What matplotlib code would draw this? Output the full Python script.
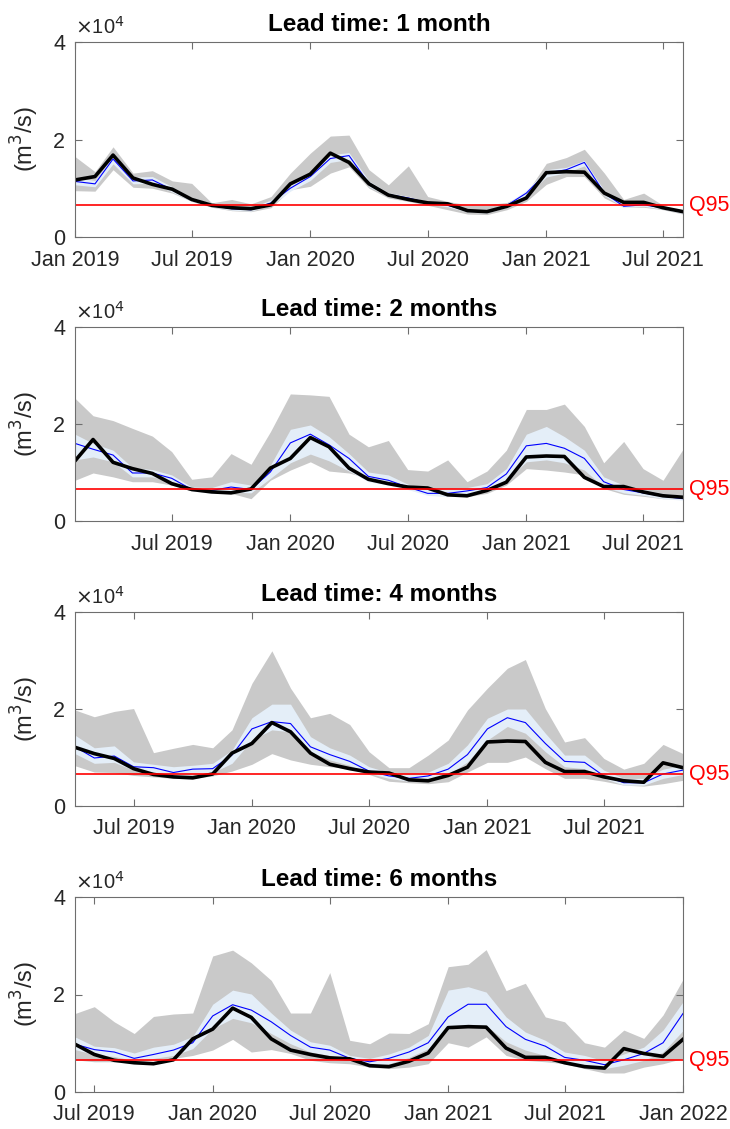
import numpy as np
import pandas as pd
import matplotlib
matplotlib.use('Agg')
import matplotlib.pyplot as plt
import matplotlib.dates as mdates
from matplotlib.ticker import FuncFormatter, FixedLocator

plt.rcParams['font.family'] = ['Liberation Sans', 'DejaVu Sans']

# monthly dates of the observed series (Jan 2019 .. Jan 2022)
months = pd.date_range('2019-01-01', periods=37, freq='MS')

observed = [11700, 12400, 16800, 12100, 10800, 9800, 7700, 6500, 6000, 5800, 6600, 10900,
            12900, 17200, 15300, 10900, 8600, 7700, 7000, 6800, 5400, 5200, 6300, 8000,
            13200, 13400, 13300, 9000, 7100, 7100, 6000, 5200, 4900, 8900, 7900, 7300,
            10800]

q95 = 6500
lead_times = [1, 2, 4, 6]
titles = ['Lead time: 1 month', 'Lead time: 2 months', 'Lead time: 4 months', 'Lead time: 6 months']

# ensemble max / min (grey), upper / lower quantiles (light blue), median (blue)
ens_max = [
    [16500, 13400, 18500, 13100, 13600, 11500, 11000, 7000, 7700, 6800, 8300, 13100,
     17200, 20700, 20900, 13800, 10700, 14600, 8300, 7300, 6600, 6600, 7100, 9000,
     15100, 16300, 18000, 13100, 7700, 9000, 6500, 5300],
    [25300, 21700, 20700, 19100, 17500, 14300, 8600, 9100, 13900, 11700, 18400, 26200,
     26000, 25700, 17900, 15300, 16600, 10600, 10300, 12600, 8100, 10300, 14600, 23000,
     23000, 24100, 19500, 12000, 16400, 10800, 8400, 14800],
    [19800, 18400, 19500, 20100, 11000, 11900, 12700, 12000, 15700, 25300, 32000, 24300,
     18200, 19100, 16800, 11200, 7900, 7900, 10500, 13600, 19800, 24300, 28400, 30200,
     20100, 13200, 14100, 9800, 7600, 8800, 12700, 10800],
    [16100, 17500, 14400, 12000, 15500, 16000, 16200, 27900, 29100, 26500, 22900, 16200,
     16200, 24500, 10600, 9900, 12100, 12000, 14000, 25700, 26200, 29200, 20800, 22300,
     15400, 14400, 10100, 9200, 12700, 11000, 15800, 23100],
]
ens_min = [
    [9500, 9400, 13800, 10200, 10000, 9000, 7300, 6100, 5400, 5200, 6000, 9700,
     10400, 13100, 14400, 10000, 8000, 7300, 6500, 5600, 4700, 4600, 5600, 7300,
     10800, 12400, 12400, 8000, 6100, 6100, 5600, 4700],
    [8400, 9900, 9100, 8100, 8100, 7400, 6200, 5900, 5700, 4600, 8400, 10500,
     12200, 10300, 9900, 8800, 7600, 7000, 6200, 5300, 5000, 5700, 7400, 10800,
     10500, 10100, 9500, 6700, 5500, 5100, 4600, 4600],
    [8300, 7000, 6900, 6300, 6000, 5700, 5700, 6200, 7200, 8600, 10800, 9500,
     8600, 8100, 7700, 6500, 5100, 4800, 4600, 5000, 7000, 9000, 9000, 10100,
     7700, 5700, 5700, 5100, 4300, 4100, 4600, 5300],
    [6600, 6200, 6200, 6200, 6600, 6900, 7500, 8600, 10800, 8200, 8700, 7900,
     6500, 6000, 5800, 5100, 4800, 5100, 5800, 10100, 9200, 11300, 7500, 6500,
     6200, 5800, 4800, 3900, 3900, 5100, 5800, 6900],
]
q_upper = [
    [12200, 11600, 16600, 12300, 12400, 10300, 8100, 6900, 6200, 6000, 7600, 10700,
     13200, 16900, 17300, 11500, 9100, 8300, 7300, 6800, 5700, 5500, 6900, 9600,
     13800, 14300, 15700, 9500, 6700, 6900, 6300, 5400],
    [17900, 16000, 14600, 11000, 10600, 9500, 7000, 6900, 8100, 7400, 11500, 18900,
     19800, 17400, 13900, 10100, 9500, 7600, 6500, 6700, 6900, 7700, 10800, 17900,
     19500, 17400, 14600, 9100, 7400, 6500, 5700, 5300],
    [14600, 12000, 12400, 9100, 8600, 8100, 8400, 8800, 11500, 18200, 21000, 21000,
     14300, 12000, 10500, 8100, 6900, 6500, 7000, 8800, 12600, 18100, 20000, 20000,
     15000, 10500, 10500, 7400, 5700, 5700, 7600, 8400],
    [11300, 9400, 9100, 8000, 9200, 9800, 11400, 18000, 20900, 20100, 16200, 12700,
     10300, 9600, 7500, 6900, 7800, 9200, 11600, 20900, 21600, 20500, 15400, 12300,
     10600, 8200, 7500, 6400, 7800, 9200, 12700, 18500],
]
q_lower = [
    [10700, 10300, 15000, 10900, 11000, 9200, 7300, 6200, 5500, 5300, 6500, 9400,
     11600, 15300, 15900, 10300, 8300, 7700, 6700, 6200, 5100, 4900, 6100, 8500,
     12300, 13200, 14600, 8500, 6000, 6300, 5700, 4800],
    [12600, 13200, 12200, 9100, 9100, 8100, 6200, 5700, 6000, 5800, 8800, 12000,
     13800, 12400, 10300, 8100, 7400, 6500, 5300, 5000, 5300, 6300, 8400, 12200,
     12600, 12000, 10500, 7000, 5800, 5300, 4600, 4300],
    [10800, 8800, 9000, 7400, 7000, 6300, 6500, 6900, 8800, 13600, 15700, 15300,
     11200, 9500, 8400, 6700, 5700, 5100, 5500, 6500, 9100, 13600, 16400, 15000,
     11200, 8100, 7700, 5700, 4300, 4300, 5700, 6500],
    [8700, 7700, 7300, 6400, 6900, 7500, 8900, 13000, 15100, 14200, 12000, 9900,
     8200, 7500, 6400, 5500, 5800, 7100, 8900, 12800, 13900, 13700, 10300, 8600,
     7500, 6200, 5500, 4800, 5500, 6500, 8200, 12600],
]
median = [
    [11400, 10900, 16000, 11500, 11700, 9700, 7700, 6500, 5800, 5600, 7000, 10000,
     12400, 16100, 16700, 10900, 8700, 8000, 7000, 6500, 5400, 5200, 6500, 9000,
     13100, 13800, 15300, 9000, 6300, 6600, 6000, 5100],
    [16000, 14800, 13600, 9900, 9900, 8800, 6500, 6300, 7000, 6500, 10100, 16100,
     17900, 15700, 12900, 9200, 8400, 7000, 5700, 5700, 6200, 6900, 9700, 15500,
     16000, 15000, 12900, 8100, 6500, 5800, 5100, 4600],
    [12200, 9900, 10300, 8100, 7900, 6900, 7600, 7700, 10500, 15900, 17400, 17000,
     12200, 10600, 9200, 7200, 6200, 5700, 6200, 7600, 10600, 15900, 18200, 17200,
     12900, 9200, 9000, 6200, 4800, 4800, 6600, 7400],
    [9800, 8700, 8200, 6900, 7700, 8600, 10100, 15600, 17900, 16800, 14400, 11600,
     9200, 8600, 6900, 6200, 6900, 8200, 10100, 15400, 18000, 18000, 13400, 10800,
     9400, 7100, 6500, 5600, 6600, 7900, 10100, 16100],
]

txt_col = '#262626'
ax_col = '#6e6e6e'

fig = plt.figure(figsize=(7.30, 11.29), dpi=100)
W, H = 730.0, 1129.0
panel_px = [(42, 237), (327, 521), (612, 806), (897, 1092)]
left_px, right_px = 75, 683

for i, lead in enumerate(lead_times):
    top, bot = panel_px[i]
    ax = fig.add_axes([left_px / W, 1 - bot / H, (right_px - left_px) / W, (bot - top) / H])
    start = lead - 1
    x = months[start:start + 32]
    obs = observed[start:start + 32]

    ax.fill_between(x, ens_min[i], ens_max[i], color='#c9c9c9', lw=0)
    ax.fill_between(x, q_lower[i], q_upper[i], color='#e4eef8', lw=0)
    ax.plot(x, median[i], color='#0000ff', lw=0.8)
    ax.plot(x, obs, color='black', lw=2.6)
    ax.axhline(q95, color='red', lw=1.2)
    ax.text(1.01, q95, 'Q95', color='red', fontsize=15.5, va='center', ha='left',
            transform=ax.get_yaxis_transform())

    ax.set_xlim(x[0], x[-1])
    ax.set_ylim(0, 40000)
    ax.yaxis.set_major_locator(FixedLocator([0, 20000, 40000]))
    ax.yaxis.set_major_formatter(FuncFormatter(lambda v, p: '%d' % round(v / 1e4)))
    ax.xaxis.set_major_locator(mdates.MonthLocator(bymonth=[1, 7]))
    ax.xaxis.set_major_formatter(mdates.DateFormatter('%b %Y'))
    ax.tick_params(direction='in', length=5, width=0.8, colors=ax_col, labelcolor=txt_col,
                   labelsize=15.5, top=True, right=True)
    ax.tick_params(axis='x', pad=9)
    ax.tick_params(axis='y', pad=7)
    for s in ax.spines.values():
        s.set_color(ax_col)
        s.set_linewidth(0.8)

    ax.set_title(titles[i], fontsize=17.5, fontweight='bold', pad=8, color='black')
    ax.set_ylabel('(m$^3$/s)', fontsize=17, color=txt_col, labelpad=9)
    ax.text(0.0, 1.02, r'$\times$10$^4$', transform=ax.transAxes, fontsize=14.5,
            color=txt_col, ha='left', va='bottom')

fig.savefig('out.png', dpi=100)
